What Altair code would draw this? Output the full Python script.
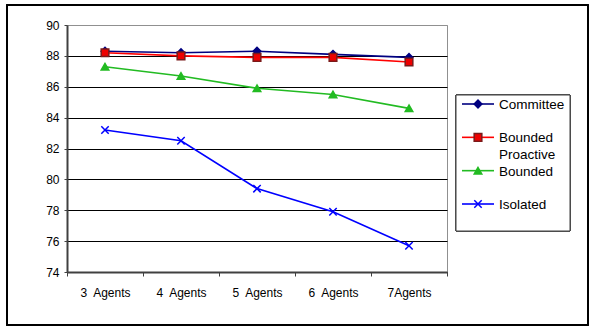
import altair as alt
import pandas as pd

categories = ["3\u00a0 Agents", "4\u00a0 Agents", "5\u00a0 Agents", "6\u00a0 Agents", "7Agents"]
series_names = ["Committee", "Bounded Proactive", "Bounded", "Isolated"]
legend_labels = ["Committee", "Bounded\nProactive", "Bounded", "Isolated"]
committee = [88.3, 88.2, 88.3, 88.1, 87.9]
bounded_proactive = [88.2, 88.0, 87.9, 87.9, 87.6]
bounded = [87.3, 86.7, 85.9, 85.5, 84.6]
isolated = [83.2, 82.5, 79.4, 77.9, 75.7]

line_colors = ["#000080", "#FF0000", "#22BB22", "#0000FF"]
fill_colors = ["#000080", "#EE0000", "#22BB22", "transparent"]
stroke_colors = ["#000080", "#7A1A1A", "#22BB22", "#0000FF"]
shapes = ["diamond", "square", "triangle-up", "M-1,-1L1,1M-1,1L1,-1"]
sizes = [60, 55, 75, 60]

values = [committee, bounded_proactive, bounded, isolated]
rows = []
for s, vals in zip(series_names, values):
    for c, v in zip(categories, vals):
        rows.append({"category": c, "series": s, "value": v})
df = pd.DataFrame(rows)
leg = pd.DataFrame({"series": series_names, "label": legend_labels,
                    "idx": list(range(len(series_names)))})

FONT = "Liberation Sans"

xenc = alt.X("category:N", sort=categories, title=None,
             scale=alt.Scale(paddingInner=0, paddingOuter=0),
             axis=alt.Axis(labelAngle=0, tickBand="extent", grid=False,
                           domainColor="#404040", domainWidth=2,
                           tickColor="#404040", tickSize=4, tickWidth=1,
                           labelPadding=11, labelFont=FONT, labelFontSize=12,
                           labelColor="black"))
yscale = alt.Scale(domain=[74, 90], nice=False, zero=False)
yenc = alt.Y("value:Q", title=None, scale=yscale,
             axis=alt.Axis(values=list(range(74, 91, 2)), grid=True, labelOverlap=False,
                           gridColor=alt.condition("datum.value == 90", alt.value("#909090"), alt.value("black")),
                           gridWidth=1, gridOpacity=1,
                           domainColor="#404040", domainWidth=2,
                           tickColor="#404040", tickSize=3,
                           labelPadding=5, labelFont=FONT, labelFontSize=12,
                           labelColor="black"))

color = alt.Color("series:N", scale=alt.Scale(domain=series_names, range=line_colors), legend=None)
shape = alt.Shape("series:N", scale=alt.Scale(domain=series_names, range=shapes), legend=None)
fill = alt.Fill("series:N", scale=alt.Scale(domain=series_names, range=fill_colors), legend=None)
stroke = alt.Stroke("series:N", scale=alt.Scale(domain=series_names, range=stroke_colors), legend=None)
size = alt.Size("series:N", scale=alt.Scale(domain=series_names, range=sizes), legend=None)

frame = alt.Chart(leg).mark_rect(fill=None, stroke="black", strokeWidth=1.5).encode(
    x=alt.value(-60), x2=alt.value(521), y=alt.value(-20), y2=alt.value(300))

lines = alt.Chart(df).mark_line(strokeWidth=1.6).encode(x=xenc, y=yenc, color=color)
points = alt.Chart(df).mark_point(filled=False, opacity=1, strokeWidth=1.5).encode(
    x=xenc, y=yenc, shape=shape, fill=fill, stroke=stroke, size=size)
main = alt.layer(lines, points)

lyenc = alt.Y("idx:Q", axis=None, scale=alt.Scale(domain=[0, 3], range=[79, 179], nice=False, zero=False))
box = alt.Chart(leg).mark_rect(fill="white", stroke="#404040", strokeWidth=1).encode(
    x=alt.value(389), x2=alt.value(503), y=alt.value(70), y2=alt.value(206))
leg_lines = alt.Chart(leg).mark_rule(strokeWidth=1.6).encode(
    x=alt.value(395), x2=alt.value(427), y=lyenc, color=color)
leg_pts = alt.Chart(leg).mark_point(filled=False, opacity=1, strokeWidth=1.5).encode(
    x=alt.value(411), y=lyenc, shape=shape, fill=fill, stroke=stroke, size=size)
leg_text = alt.Chart(leg).mark_text(align="left", baseline="alphabetic", dy=5, font=FONT,
                                    fontSize=13.5, lineBreak="\n", lineHeight=17, color="black").encode(
    x=alt.value(432), y=lyenc, text="label:N")
legend = alt.layer(box, leg_lines, leg_pts, leg_text)

chart = alt.layer(frame, main, legend).resolve_scale(y="independent").properties(
    width=380, height=247,
    autosize=alt.AutoSizeParams(type="none"),
    padding={"left": 67, "top": 25, "right": 142, "bottom": 55},
    background="white",
).configure_view(stroke="#909090", strokeWidth=1)

chart.save("out.html", embed_options={"renderer": "svg", "actions": False})
